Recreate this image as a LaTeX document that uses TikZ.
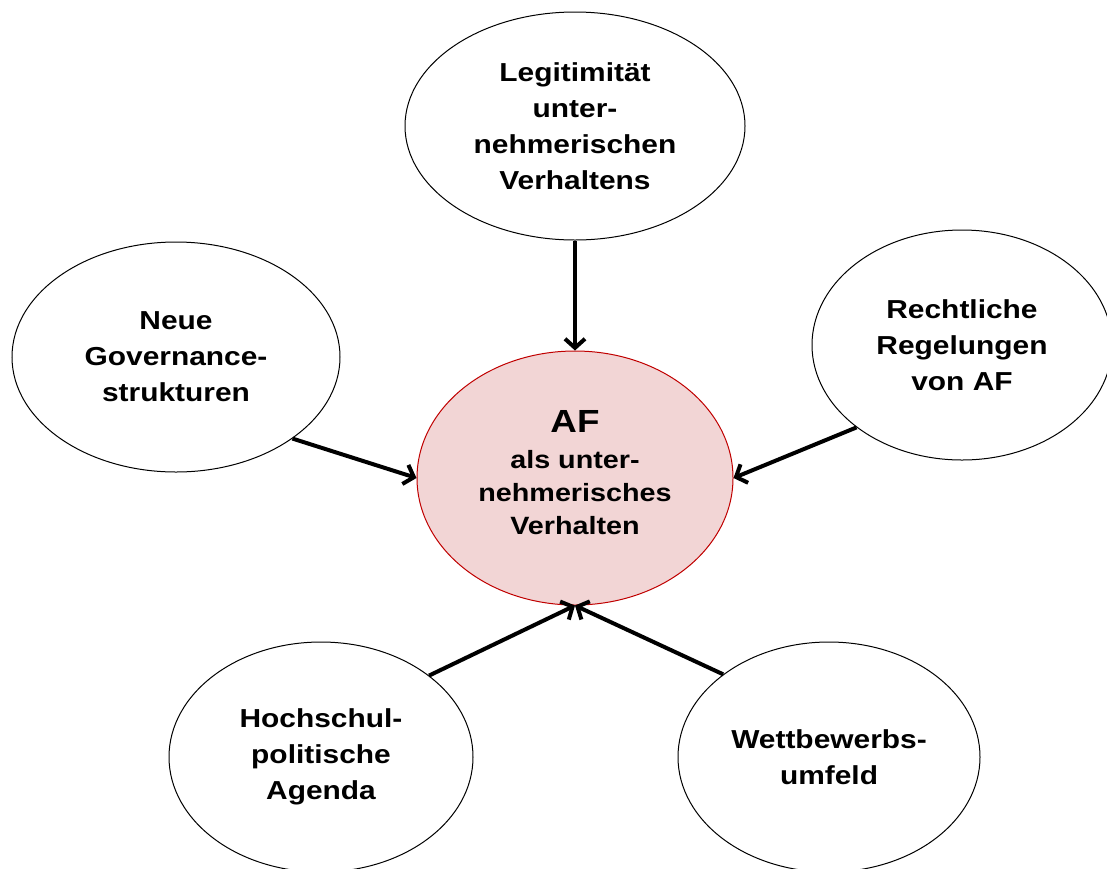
\documentclass[tikz,border=0pt]{standalone}
\usepackage{fontspec}
\setmainfont{Liberation Sans}[FakeStretch=1.15]
\usetikzlibrary{shapes.geometric,arrows.meta}
\definecolor{afpink}{HTML}{F2D5D5}
\definecolor{afred}{HTML}{C00000}
\begin{document}
\begin{tikzpicture}[x=1pt,y=-1pt,
  bubble/.style={ellipse, draw=black, line width=1pt, inner sep=0pt, align=center,
    font=\fontsize{26}{36}\selectfont\bfseries},
  core/.style={bubble, draw=afred, fill=afpink, font=\fontsize{25}{33}\selectfont\bfseries},
  link/.style={line width=4pt, -{Straight Barb[length=9pt,width=20pt]}}]
\useasboundingbox (0,0) rectangle (1107,868);

% influencing factors
\node[bubble, minimum width=340pt, minimum height=228pt] (T) at (575,126)
  {Legitimität\\unter-\\nehmerischen\\Verhaltens};
\node[bubble, minimum width=328pt, minimum height=230pt] (L) at (176,357)
  {Neue\\Governance-\\strukturen};
\node[bubble, minimum width=300pt, minimum height=230pt] (R) at (962,345)
  {Rechtliche\\Regelungen\\von AF};
\node[bubble, minimum width=304pt, minimum height=230pt] (BL) at (321,757)
  {Hochschul-\\politische\\Agenda};
\node[bubble, minimum width=302pt, minimum height=230pt] (BR) at (829,757)
  {Wettbewerbs-\\umfeld};

% central concept
\node[core, minimum width=316pt, minimum height=254pt, text depth=12pt] (C) at (575,478)
  {{\fontsize{32}{36}\selectfont AF}\\[3pt]als unter-\\nehmerisches\\Verhalten};

% influences
\draw[link] (T.south) -- (C.north);
\draw[link] (L.-35) -- (C.west);
\draw[link] (R.-142.5) -- (C.east);
\draw[link] (BL.37.5) -- (C.south);
\draw[link] (BR.142.3) -- (C.south);
\end{tikzpicture}
\end{document}
